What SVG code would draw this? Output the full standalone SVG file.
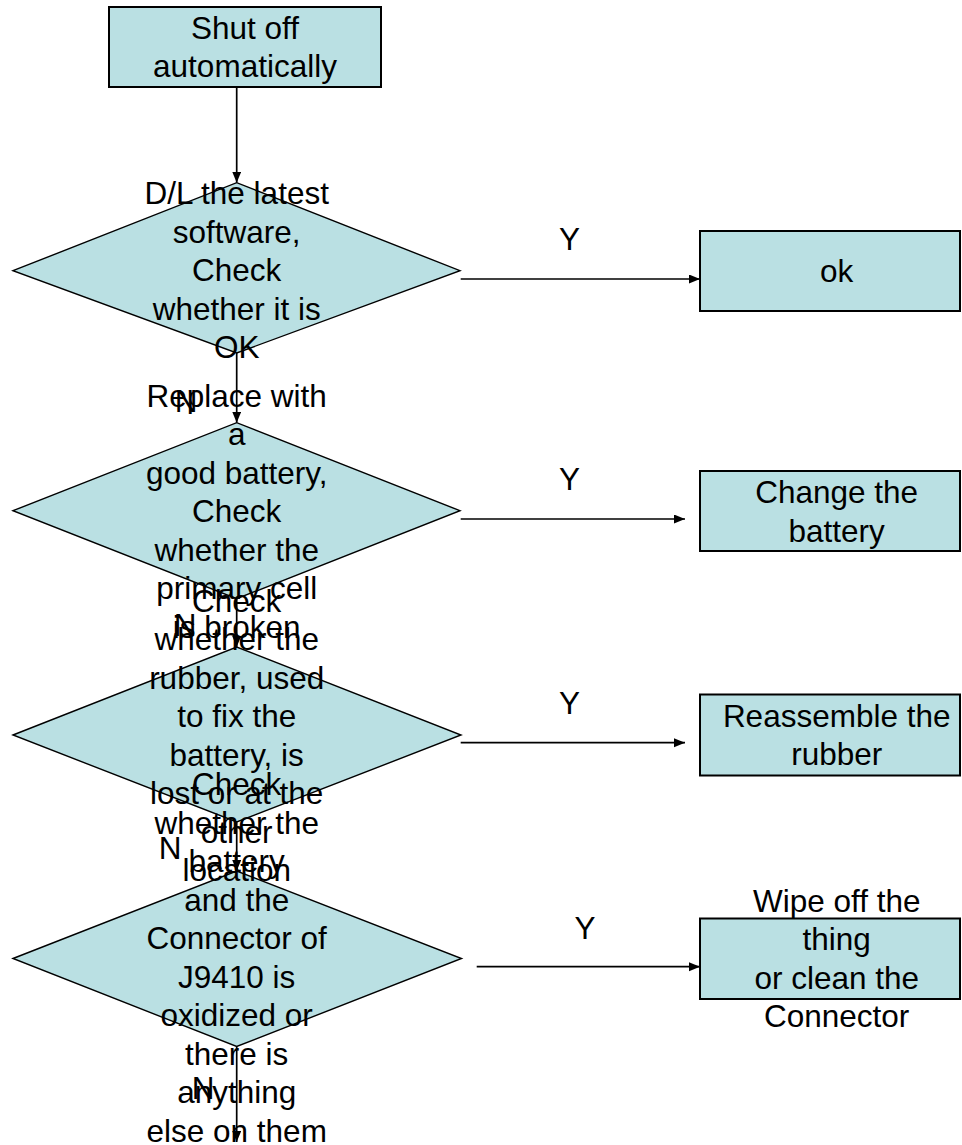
<svg xmlns="http://www.w3.org/2000/svg" width="962" height="1145" viewBox="0 0 962 1145">
  <style>
    .box { fill: #BAE0E3; stroke: #000; stroke-width: 2; }
    .dia { fill: #BAE0E3; stroke: #000; stroke-width: 1.4; }
    .link { fill: none; stroke: #000; stroke-width: 1.7; marker-end: url(#arrow); }
    text { font-family: "Liberation Sans", Arial, sans-serif; font-size: 31.5px; fill: #000; }
    .c { text-anchor: middle; }
  </style>
  <defs>
    <marker id="arrow" markerUnits="userSpaceOnUse" markerWidth="12" markerHeight="10" refX="11" refY="4.5" orient="auto">
      <path d="M0,0 L11,4.5 L0,9 z" fill="#000"/>
    </marker>
  </defs>

  <!-- node shapes -->
  <g id="start"><rect class="box" x="109" y="7" width="272" height="80"/></g>
  <g id="check-software"><polygon class="dia" points="13,270.7 236.7,182.7 460,270.7 236.7,353"/></g>
  <g id="result-ok"><rect class="box" x="700" y="231" width="260" height="80"/></g>
  <g id="check-cell"><polygon class="dia" points="13,510.7 236.7,422.7 460,510.7 236.7,598.7"/></g>
  <g id="change-battery"><rect class="box" x="700" y="471" width="260" height="80"/></g>
  <g id="check-rubber"><polygon class="dia" points="13,735 236.7,647 461,735 236.7,822"/></g>
  <g id="reassemble-rubber"><rect class="box" x="700" y="694.5" width="260" height="81"/></g>
  <g id="check-connector"><polygon class="dia" points="13,958.5 236.7,871 461.5,958.5 236.7,1046.5"/></g>
  <g id="clean-connector"><rect class="box" x="700" y="918.5" width="260" height="80.5"/></g>

  <!-- connectors -->
  <g id="connectors">
    <line class="link" x1="236.7" y1="87" x2="236.7" y2="182.7"/>
    <line class="link" x1="460.7" y1="279" x2="700" y2="279"/>
    <line class="link" x1="236.7" y1="353" x2="236.7" y2="422.7"/>
    <line class="link" x1="460.7" y1="519" x2="685" y2="519"/>
    <line class="link" x1="236.7" y1="598.7" x2="236.7" y2="647"/>
    <line class="link" x1="460.7" y1="742.7" x2="685" y2="742.7"/>
    <line class="link" x1="236.7" y1="822" x2="236.7" y2="871"/>
    <line class="link" x1="476.7" y1="966.7" x2="700" y2="966.7"/>
    <line class="link" x1="236.7" y1="1046.5" x2="236.7" y2="1142"/>
  </g>

  <!-- branch labels -->
  <g id="branch-labels" class="c">
    <text x="569.5" y="250">Y</text>
    <text x="569.5" y="490">Y</text>
    <text x="569.5" y="713.5">Y</text>
    <text x="585" y="938.5">Y</text>
    <text x="186" y="411.5">N</text>
    <text x="185" y="636">N</text>
    <text x="170" y="858.5">N</text>
    <text x="203" y="1098.5">N</text>
  </g>

  <!-- node texts -->
  <g id="node-texts" class="c">
    <text id="start-label" x="245" y="38.5">Shut off<tspan x="245" dy="38.5">automatically</tspan></text>
    <text id="check-software-label" x="236.7" y="204">D/L the latest<tspan x="236.7" dy="38.5">software,</tspan><tspan x="236.7" dy="38.5">Check</tspan><tspan x="236.7" dy="38.5">whether it is</tspan><tspan x="236.7" dy="38.5">OK</tspan></text>
    <text id="result-ok-label" x="836.7" y="282">ok</text>
    <text id="check-cell-label" x="236.7" y="406.7">Replace with<tspan x="236.7" dy="38.5">a</tspan><tspan x="236.7" dy="38.5">good battery,</tspan><tspan x="236.7" dy="38.5">Check</tspan><tspan x="236.7" dy="38.5">whether the</tspan><tspan x="236.7" dy="38.5">primary cell</tspan><tspan x="236.7" dy="38.5">is broken</tspan></text>
    <text id="change-battery-label" x="836.7" y="503">Change the<tspan x="836.7" dy="38.5">battery</tspan></text>
    <text id="check-rubber-label" x="236.7" y="611.5">Check<tspan x="236.7" dy="38.5">whether the</tspan><tspan x="236.7" dy="38.5">rubber, used</tspan><tspan x="236.7" dy="38.5">to fix the</tspan><tspan x="236.7" dy="38.5">battery, is</tspan><tspan x="236.7" dy="38.5">lost or at the</tspan><tspan x="236.7" dy="38.5">other</tspan><tspan x="236.7" dy="38.5">location</tspan></text>
    <text id="reassemble-rubber-label" x="836.7" y="726.7">Reassemble the<tspan x="836.7" dy="38.5">rubber</tspan></text>
    <text id="check-connector-label" x="236.7" y="795">Check<tspan x="236.7" dy="38.5">whether the</tspan><tspan x="236.7" dy="38.5">battery</tspan><tspan x="236.7" dy="38.5">and the</tspan><tspan x="236.7" dy="38.5">Connector of</tspan><tspan x="236.7" dy="38.5">J9410 is</tspan><tspan x="236.7" dy="38.5">oxidized or</tspan><tspan x="236.7" dy="38.5">there is</tspan><tspan x="236.7" dy="38.5">anything</tspan><tspan x="236.7" dy="38.5">else on them</tspan></text>
    <text id="clean-connector-label" x="836.7" y="911.5">Wipe off the<tspan x="836.7" dy="38.5">thing</tspan><tspan x="836.7" dy="38.5">or clean the</tspan><tspan x="836.7" dy="38.5">Connector</tspan></text>
  </g>
</svg>
